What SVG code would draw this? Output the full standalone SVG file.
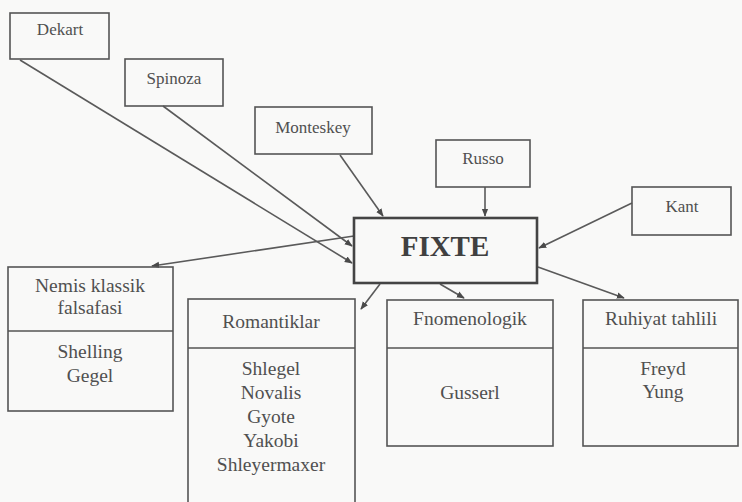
<svg xmlns="http://www.w3.org/2000/svg" width="742" height="502" viewBox="0 0 742 502">
<defs>
<marker id="ah" viewBox="0 0 10 10" refX="9" refY="5" markerWidth="8" markerHeight="8" markerUnits="userSpaceOnUse" orient="auto">
<path d="M0,1 L10,5 L0,9 Z" fill="#4a4a4a"/>
</marker>
</defs>
<style>
.bx{fill:none;stroke:#555;stroke-width:1.6}
.bxm{fill:none;stroke:#444;stroke-width:2.6}
text{font-family:'Liberation Serif','DejaVu Serif',serif;fill:#505050;text-anchor:middle}
.s{font-size:17px}
.m{font-size:19.5px}
.b{font-size:29px;font-weight:bold;fill:#404040}
.c{fill:none;stroke:#5a5a5a;stroke-width:1.6;marker-end:url(#ah)}
</style>
<rect width="742" height="502" fill="#f9f9f8"/>
<g id="connectors">
<line class="c" x1="20" y1="60" x2="352" y2="263"/>
<line class="c" x1="163" y1="106" x2="352" y2="246"/>
<line class="c" x1="340" y1="155" x2="383" y2="216"/>
<line class="c" x1="485" y1="187" x2="485" y2="216"/>
<line class="c" x1="632" y1="203" x2="539" y2="248"/>
<line class="c" x1="354" y1="236" x2="152" y2="266"/>
<line class="c" x1="380" y1="284" x2="361" y2="309"/>
<line class="c" x1="440" y1="284" x2="464" y2="298"/>
<line class="c" x1="538" y1="267" x2="624" y2="298"/>
</g>
<g id="dekart"><rect class="bx" x="10" y="13" width="99" height="46"/><text class="s" x="60" y="35">Dekart</text></g>
<g id="spinoza"><rect class="bx" x="125" y="59" width="98" height="47"/><text class="s" x="174" y="84">Spinoza</text></g>
<g id="monteskey"><rect class="bx" x="255" y="107" width="117" height="47"/><text class="s" x="313" y="133">Monteskey</text></g>
<g id="russo"><rect class="bx" x="436" y="140" width="94" height="47"/><text class="s" x="483" y="164">Russo</text></g>
<g id="kant"><rect class="bx" x="632" y="187" width="99" height="48"/><text class="s" x="682" y="212">Kant</text></g>
<g id="fixte"><rect class="bxm" x="354" y="218" width="183" height="65"/><text class="b" x="445" y="256">FIXTE</text></g>
<g id="nemis"><rect class="bx" x="8" y="267" width="165" height="144"/><line class="bx" x1="8" y1="331" x2="173" y2="331"/>
<text class="m" x="90" y="292">Nemis klassik</text><text class="m" x="90" y="314">falsafasi</text>
<text class="m" x="90" y="358">Shelling</text><text class="m" x="90" y="382">Gegel</text></g>
<g id="romantiklar"><rect class="bx" x="188" y="299" width="167" height="210"/><line class="bx" x1="188" y1="348" x2="355" y2="348"/>
<text class="m" x="271" y="328">Romantiklar</text>
<text class="m" x="271" y="375">Shlegel</text><text class="m" x="271" y="399">Novalis</text><text class="m" x="271" y="423">Gyote</text><text class="m" x="271" y="447">Yakobi</text><text class="m" x="271" y="471">Shleyermaxer</text></g>
<g id="fenomenologik"><rect class="bx" x="387" y="300" width="166" height="146"/><line class="bx" x1="387" y1="348" x2="553" y2="348"/>
<text class="m" x="470" y="325">Fnomenologik</text><text class="m" x="470" y="399">Gusserl</text></g>
<g id="ruhiyat"><rect class="bx" x="583" y="300" width="155" height="146"/><line class="bx" x1="583" y1="348" x2="738" y2="348"/>
<text class="m" x="661" y="325">Ruhiyat tahlili</text><text class="m" x="663" y="375">Freyd</text><text class="m" x="663" y="398">Yung</text></g>
</svg>
